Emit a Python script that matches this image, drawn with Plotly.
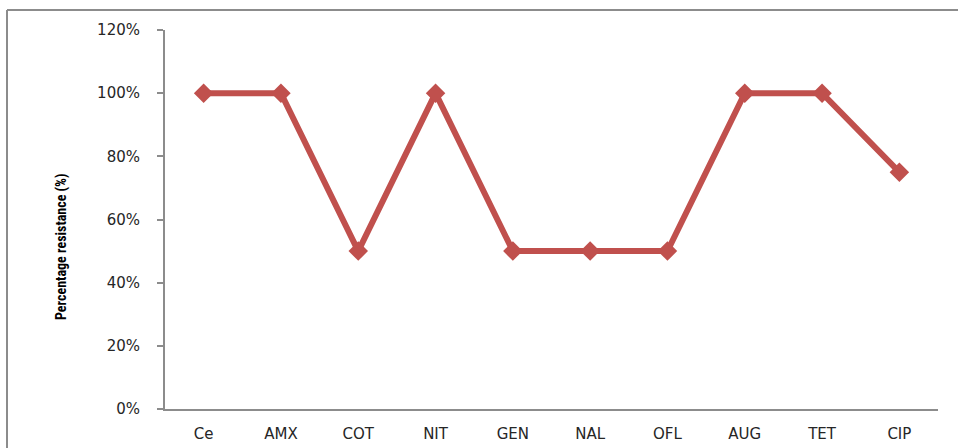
import plotly.graph_objects as go

# Antibiotics tested and the share of isolates resistant to each
antibiotics = ["Ce", "AMX", "COT", "NIT", "GEN", "NAL", "OFL", "AUG", "TET", "CIP"]
resistance = [1.00, 1.00, 0.50, 1.00, 0.50, 0.50, 0.50, 1.00, 1.00, 0.75]
y_ticks = [0, 0.2, 0.4, 0.6, 0.8, 1.0, 1.2]

LINE_RED = "#C0504D"
AXIS_GREY = "#8C8C8C"
TEXT = "#262626"

fig = go.Figure(
    go.Scatter(
        x=antibiotics,
        y=resistance,
        mode="lines+markers",
        line=dict(color=LINE_RED, width=6),
        marker=dict(symbol="diamond", size=15, color=LINE_RED),
        hoverinfo="x+y",
    )
)

fig.update_layout(
    width=958,
    height=448,
    margin=dict(l=165, r=20, t=30, b=39),
    paper_bgcolor="white",
    plot_bgcolor="white",
    showlegend=False,
    font=dict(family="DejaVu Sans", size=15, color=TEXT),
)

fig.update_xaxes(
    type="category",
    range=[-0.5, len(antibiotics) - 0.5],
    automargin=False,
    showline=True,
    linecolor=AXIS_GREY,
    linewidth=2,
    showgrid=False,
    ticks="",
    ticklabelstandoff=10,
    tickfont=dict(family="DejaVu Sans", size=15, color=TEXT),
)

fig.update_yaxes(
    range=[0, 1.2],
    tickvals=y_ticks,
    tickformat=".0%",
    automargin=False,
    showline=True,
    linecolor=AXIS_GREY,
    linewidth=2,
    showgrid=False,
    zeroline=False,
    ticks="outside",
    ticklen=6,
    tickwidth=2,
    tickcolor=AXIS_GREY,
    ticklabelstandoff=14,
    tickfont=dict(family="DejaVu Sans", size=15, color=TEXT),
)

# Vertical axis title
fig.add_annotation(
    text="<b>Percentage resistance (%)</b>",
    xref="paper", yref="paper",
    x=(61 - 165) / 773, y=(409 - 247) / 379,
    xanchor="center", yanchor="middle",
    textangle=-90,
    showarrow=False,
    font=dict(family="Liberation Sans Narrow, Roboto Condensed, Roboto", size=14, color="black"),
)

# Chart frame (left and top edges visible)
frame_x = (7 - 165) / 773
frame_top = (409 - 10) / 379
fig.add_shape(type="line", xref="paper", yref="paper",
              x0=frame_x, x1=1.1, y0=frame_top, y1=frame_top,
              line=dict(color=AXIS_GREY, width=2))
fig.add_shape(type="line", xref="paper", yref="paper",
              x0=frame_x, x1=frame_x, y0=frame_top, y1=-0.2,
              line=dict(color=AXIS_GREY, width=2))

fig.write_html("out.html")
